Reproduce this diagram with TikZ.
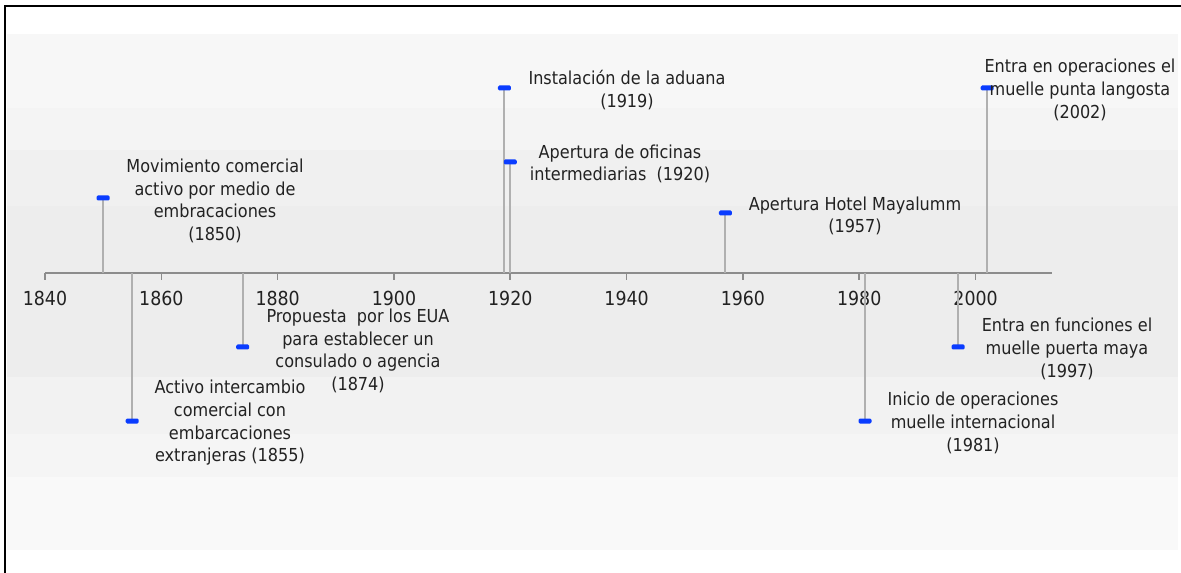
\documentclass[tikz,border=0pt]{standalone}
\usepackage{fontspec}
\setmainfont{DejaVu Sans Condensed}
\usepackage{tikz}

\definecolor{hitoblue}{HTML}{0A3CFF}
\definecolor{tallogray}{HTML}{B0B0B0}
\definecolor{ejegray}{HTML}{8C8C8C}
\definecolor{textgray}{HTML}{222222}

% year -> pixel column on the axis
\newcommand{\yr}[1]{45+(#1-1840)*5.816}

\begin{document}
\begin{tikzpicture}[x=0.75pt, y=-0.75pt,
    evt/.style={font=\fontsize{13.4}{17}\selectfont, align=center, text=textgray, inner sep=0pt},
    yrlbl/.style={font=\fontsize{14.5}{17}\selectfont, text=textgray, inner sep=0pt},
    hito/.style={fill=hitoblue, rounded corners=1pt, minimum width=9.75pt, minimum height=3.75pt, inner sep=0pt},
    tallo/.style={draw=tallogray, line width=1.5pt}]
    \useasboundingbox (0,0) rectangle (1181,573);

    % background bands
    \fill[black!3]   (7,34)  rectangle (1178,108);
    \fill[black!4.5] (7,108) rectangle (1178,150);
    \fill[black!6]   (7,150) rectangle (1178,206);
    \fill[black!7]   (7,206) rectangle (1178,377);
    \fill[black!5]   (7,377) rectangle (1178,434);
    \fill[black!4]   (7,434) rectangle (1178,477);
    \fill[black!2.5] (7,477) rectangle (1178,550);
    \draw[line width=1.1pt] (5,573) -- (5,6) -- (1181,6);

    % axis and ticks
    \coordinate (ini) at ({\yr{1840}},273);
    \coordinate (fin) at (1052,273);
    \draw[ejegray, line width=1.5pt] (ini) -- (fin);
    \draw[ejegray, line width=1.2pt] ({\yr{1840}},273) -- ({\yr{1840}},280);
    \draw[ejegray, line width=1.2pt] ({\yr{1860}},273) -- ({\yr{1860}},280);
    \draw[ejegray, line width=1.2pt] ({\yr{1880}},273) -- ({\yr{1880}},280);
    \draw[ejegray, line width=1.2pt] ({\yr{1900}},273) -- ({\yr{1900}},280);
    \draw[ejegray, line width=1.2pt] ({\yr{1920}},273) -- ({\yr{1920}},280);
    \draw[ejegray, line width=1.2pt] ({\yr{1940}},273) -- ({\yr{1940}},280);
    \draw[ejegray, line width=1.2pt] ({\yr{1960}},273) -- ({\yr{1960}},280);
    \draw[ejegray, line width=1.2pt] ({\yr{1980}},273) -- ({\yr{1980}},280);
    \draw[ejegray, line width=1.2pt] ({\yr{2000}},273) -- ({\yr{2000}},280);
    \node[yrlbl] (t1840) at ({\yr{1840}},298) {1840};
    \node[yrlbl] (t1860) at ({\yr{1860}},298) {1860};
    \node[yrlbl] (t1880) at ({\yr{1880}},298) {1880};
    \node[yrlbl] (t1900) at ({\yr{1900}},298) {1900};
    \node[yrlbl] (t1920) at ({\yr{1920}},298) {1920};
    \node[yrlbl] (t1940) at ({\yr{1940}},298) {1940};
    \node[yrlbl] (t1960) at ({\yr{1960}},298) {1960};
    \node[yrlbl] (t1980) at ({\yr{1980}},298) {1980};
    \node[yrlbl] (t2000) at ({\yr{2000}},298) {2000};

    % events: axis point, marker point
    \coordinate (a1850) at ({\yr{1850}},273);  \coordinate (p1850) at ({\yr{1850}},198);
    \coordinate (a1855) at ({\yr{1855}},273);  \coordinate (p1855) at ({\yr{1855}},421);
    \coordinate (a1874) at ({\yr{1874}},273);  \coordinate (p1874) at ({\yr{1874}},347);
    \coordinate (a1919) at ({\yr{1919}},273);  \coordinate (p1919) at ({\yr{1919}},88);
    \coordinate (a1920) at ({\yr{1920}},273);  \coordinate (p1920) at ({\yr{1920}},162);
    \coordinate (a1957) at ({\yr{1957}},273);  \coordinate (p1957) at ({\yr{1957}},213);
    \coordinate (a1981) at ({\yr{1981}},273);  \coordinate (p1981) at ({\yr{1981}},421);
    \coordinate (a1997) at ({\yr{1997}},273);  \coordinate (p1997) at ({\yr{1997}},347);
    \coordinate (a2002) at ({\yr{2002}},273);  \coordinate (p2002) at ({\yr{2002}},88);

    \draw[tallo] (a1850) -- (p1850);
    \draw[tallo] (a1855) -- (p1855);
    \draw[tallo] (a1874) -- (p1874);
    \draw[tallo] (a1919) -- (p1919);
    \draw[tallo] (a1920) -- (p1920);
    \draw[tallo] (a1957) -- (p1957);
    \draw[tallo] (a1981) -- (p1981);
    \draw[tallo] (a1997) -- (p1997);
    \draw[tallo] (a2002) -- (p2002);

    \node[hito] (m1850) at (p1850) {};
    \node[hito] (m1855) at (p1855) {};
    \node[hito] (m1874) at (p1874) {};
    \node[hito] (m1919) at (p1919) {};
    \node[hito] (m1920) at (p1920) {};
    \node[hito] (m1957) at (p1957) {};
    \node[hito] (m1981) at (p1981) {};
    \node[hito] (m1997) at (p1997) {};
    \node[hito] (m2002) at (p2002) {};

    \node[evt] (e1850) at (215,201) {Movimiento comercial\\activo por medio de\\embracaciones\\(1850)};
    \node[evt] (e1855) at (230,423) {Activo intercambio\\comercial con\\embarcaciones\\extranjeras (1855)};
    \node[evt] (e1874) at (358,351) {Propuesta\ \ por los EUA\\para establecer un\\consulado o agencia\\(1874)};
    \node[evt] (e1919) at (627,90) {Instalación de la aduana\\(1919)};
    \node[evt] (e1920) at (620,164) {Apertura de oficinas\\intermediarias\ \ (1920)};
    \node[evt] (e1957) at (855,216) {Apertura Hotel Mayalumm\\(1957)};
    \node[evt] (e1981) at (973,423) {Inicio de operaciones\\muelle internacional\\(1981)};
    \node[evt] (e1997) at (1067,349) {Entra en funciones el\\muelle puerta maya\\(1997)};
    \node[evt] (e2002) at (1080,90) {Entra en operaciones el\\muelle punta langosta\\(2002)};
\end{tikzpicture}
\end{document}
